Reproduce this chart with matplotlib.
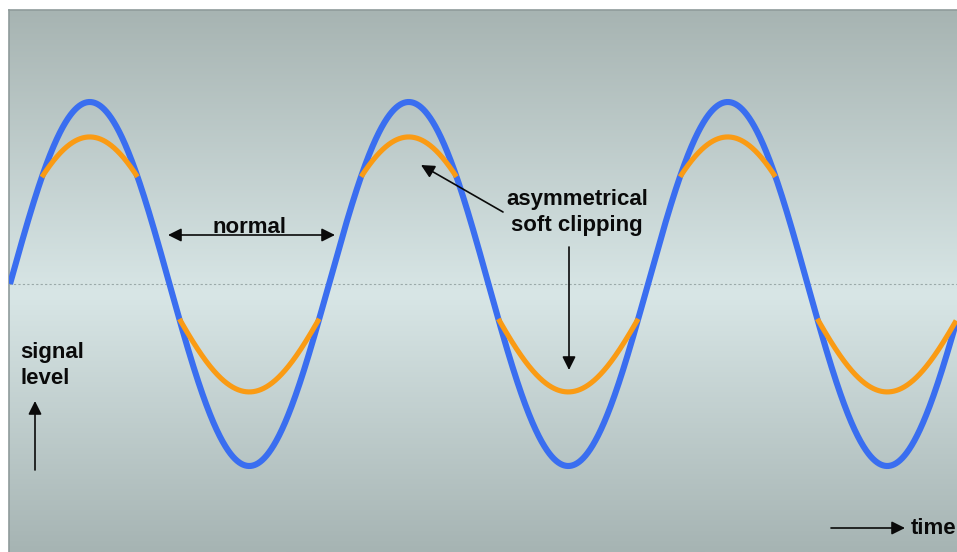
import numpy as np
import matplotlib
matplotlib.use("Agg")
import matplotlib.pyplot as plt
from matplotlib.colors import LinearSegmentedColormap

# ---- data ----
cycles_shown = 2.966          # time span visible, in periods
amplitude = 1.0               # normal signal amplitude
upper_knee = 0.587            # level where top soft clipping starts
upper_peak = 0.808            # clipped positive peak
lower_knee = -0.19            # level where bottom soft clipping starts
lower_peak = -0.593           # clipped negative peak
label_normal = "normal"
label_clip = ["asymmetrical", "soft clipping"]
label_y = ["signal", "level"]
label_x = "time"

t = np.linspace(0, cycles_shown, 3000)
normal = amplitude * np.sin(2 * np.pi * t)
upper = np.where(normal >= upper_knee,
                 upper_knee + (normal - upper_knee) * (upper_peak - upper_knee) / (amplitude - upper_knee),
                 np.nan)
lower = np.where(normal <= lower_knee,
                 lower_knee + (normal - lower_knee) * (lower_peak - lower_knee) / (-amplitude - lower_knee),
                 np.nan)

# ---- figure / layout ----
W, H = 957, 552
fig = plt.figure(figsize=(W / 100, H / 100), dpi=100)
fig.patch.set_facecolor("white")
ax = fig.add_axes([9 / W, 0, (W - 9) / W, (H - 10) / H])

PERIOD_PX, ZERO_PX, AMP_PX, X0_PX = 319.0, 284.0, 182.0, 10.0
def P(px, py):
    return (px - X0_PX) / PERIOD_PX, (ZERO_PX - py) / AMP_PX

x_left, y_top = P(9, 10)
x_right, y_bot = P(957, 552)
ax.set_xlim(x_left, x_right)
ax.set_ylim(y_bot, y_top)

# background gradient
stops = [(0.0, (167/255, 180/255, 178/255)),
         ((295 - 10) / 542, (216/255, 230/255, 230/255)),
         (1.0, (166/255, 180/255, 179/255))]
cmap = LinearSegmentedColormap.from_list("bg", stops)
grad = np.linspace(0, 1, 512).reshape(-1, 1)
ax.imshow(grad, aspect="auto", cmap=cmap, extent=[x_left, x_right, y_bot, y_top],
          origin="upper", zorder=0, interpolation="bicubic")

ax.axhline(0, color="#9aa9a9", lw=0.8, ls=(0, (2, 2)), zorder=1)

ax.plot(t, normal, color="#3a6ef0", lw=4.4, zorder=3, solid_capstyle="butt")
ax.plot(t, upper, color="#fa9b14", lw=3.7, zorder=4, solid_capstyle="butt")
ax.plot(t, lower, color="#fa9b14", lw=3.7, zorder=4, solid_capstyle="butt")

for s in ["right", "bottom"]:
    ax.spines[s].set_visible(False)
for s in ["left", "top"]:
    ax.spines[s].set_color("#8f9b9b")
    ax.spines[s].set_linewidth(1.2)
ax.set_xticks([])
ax.set_yticks([])

font = dict(family=["Liberation Sans", "DejaVu Sans"], fontweight="bold",
            fontsize=16, color="#0a0a0a")
arrow = dict(arrowstyle="-|>", color="#0a0a0a", lw=1.2, mutation_scale=20,
             shrinkA=0, shrinkB=0)

# normal
ax.text(*P(250, 233), label_normal, ha="center", va="baseline", zorder=6, **font)
ax.annotate("", xy=P(168, 235), xytext=P(335, 235),
            arrowprops=dict(arrow, arrowstyle="<|-|>"), zorder=6)

# asymmetrical soft clipping
ax.text(*P(577, 205), label_clip[0], ha="center", va="baseline", zorder=6, **font)
ax.text(*P(577, 231), label_clip[1], ha="center", va="baseline", zorder=6, **font)
ax.annotate("", xy=P(421, 165), xytext=P(503, 212), arrowprops=arrow, zorder=6)
ax.annotate("", xy=P(569, 370), xytext=P(569, 247), arrowprops=arrow, zorder=6)

# signal level
ax.text(*P(20, 358), label_y[0], ha="left", va="baseline", zorder=6, **font)
ax.text(*P(20, 384), label_y[1], ha="left", va="baseline", zorder=6, **font)
ax.annotate("", xy=P(35, 401), xytext=P(35, 470), arrowprops=arrow, zorder=6)

# time
ax.annotate("", xy=P(905, 528), xytext=P(831, 528), arrowprops=arrow, zorder=6)
ax.text(*P(911, 534), label_x, ha="left", va="baseline", zorder=6, **font)

fig.savefig("out.png", dpi=100)
